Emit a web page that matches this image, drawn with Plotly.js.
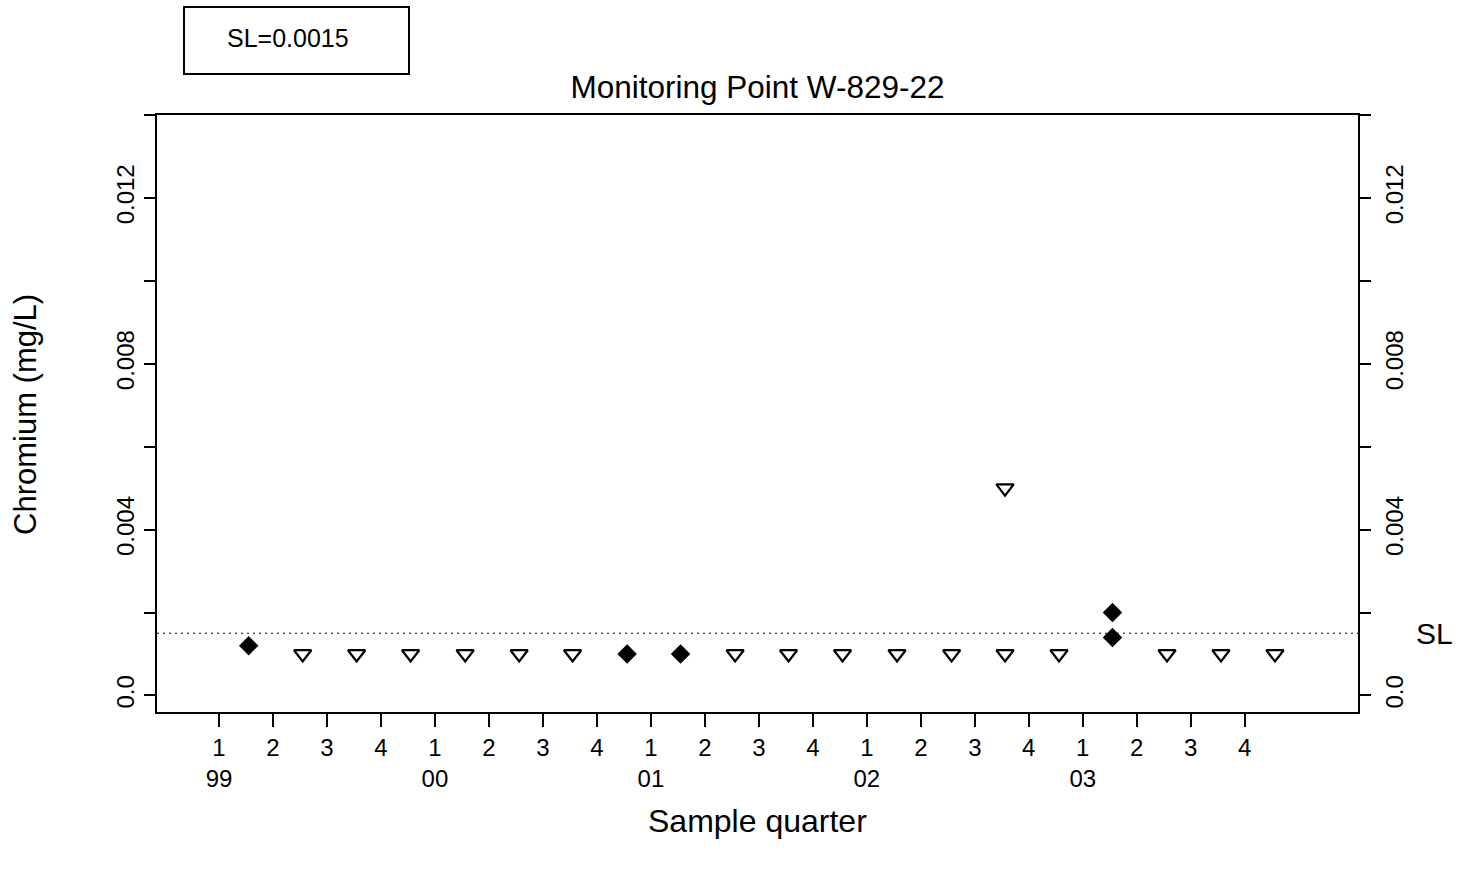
<!DOCTYPE html>
<html>
<head>
<meta charset="utf-8">
<script src="https://cdn.plot.ly/plotly-3.0.1.min.js"></script>
<style>html,body{margin:0;padding:0;background:#fff;}#chart{width:1468px;height:869px;}</style>
</head>
<body>
<div id="chart"></div>
<script>
// ---- data ----
const quarterLabels = ["1","2","3","4","1","2","3","4","1","2","3","4","1","2","3","4","1","2","3","4"];
const yearLabels = ["99","","","","00","","","","01","","","","02","","","","03","","",""];
const quarterIndex = [0,1,2,3,4,5,6,7,8,9,10,11,12,13,14,15,16,17,18,19];

// detected results (filled diamonds): sample time in quarter units, value mg/L
const detectX = [0.55, 7.56, 8.55, 16.55, 16.55];
const detectY = [0.0012, 0.001, 0.001, 0.002, 0.0014];

// non-detects (open down triangles)
const ndX = [1.55, 2.55, 3.55, 4.56, 5.56, 6.55, 9.56, 10.55, 11.55, 12.56, 13.57, 14.56, 14.56, 15.56, 17.56, 18.56, 19.56];
const ndY = [0.001, 0.001, 0.001, 0.001, 0.001, 0.001, 0.001, 0.001, 0.001, 0.001, 0.001, 0.001, 0.005, 0.001, 0.001, 0.001, 0.001];

const SL = 0.0015;
const yTickVals = [0, 0.002, 0.004, 0.006, 0.008, 0.010, 0.012, 0.014];
const yTickText = ["0.0", "", "0.004", "", "0.008", "", "0.012", ""];
const chartTitle = "Monitoring Point W-829-22";
const yTitle = "Chromium (mg/L)";
const xTitle = "Sample quarter";

// ---- layout geometry ----
const W = 1468, H = 869;
const mL = 157, mR = 110, mT = 115, mB = 157;
const pw = W - mL - mR, ph = H - mT - mB;
const px2x = p => (p - mL) / pw;
const py2y = p => (H - mB - p) / ph;

const FONT = "Liberation Sans, Arial, Helvetica, sans-serif";
const tickText = quarterIndex.map((q, i) => yearLabels[i] ? quarterLabels[i] + "<br>" + yearLabels[i] : quarterLabels[i]);

const traces = [
  {
    x: detectX, y: detectY, type: "scatter", mode: "markers",
    marker: {symbol: "diamond", size: 15, color: "#000"},
    xaxis: "x", yaxis: "y", hoverinfo: "skip", showlegend: false
  },
  {
    x: ndX, y: ndY, type: "scatter", mode: "markers",
    marker: {symbol: "triangle-down-open", size: 15, color: "#000", line: {color: "#000", width: 2.2}},
    xaxis: "x", yaxis: "y2", hoverinfo: "skip", showlegend: false
  }
];

const yCommon = {
  range: [-0.0004, 0.01400001],
  tickmode: "array", tickvals: yTickVals, ticktext: yTickText,
  tickangle: -90, ticks: "outside", ticklen: 11, tickwidth: 2, tickcolor: "#000",
  showline: true, linewidth: 2, linecolor: "#000",
  showgrid: false, zeroline: false,
  tickfont: {family: FONT, size: 24, color: "#000"}
};

const layout = {
  width: W, height: H,
  margin: {l: mL, r: mR, t: mT, b: mB, pad: 0},
  paper_bgcolor: "#fff", plot_bgcolor: "#fff",
  font: {family: FONT, color: "#000"},
  showlegend: false,
  title: {text: chartTitle, font: {family: FONT, size: 31.5, color: "#000"},
          xref: "paper", x: 0.5, xanchor: "center",
          yref: "container", y: 1 - 87 / H, yanchor: "middle"},
  xaxis: {
    range: [-1.148, 21.098],
    tickmode: "array", tickvals: quarterIndex, ticktext: tickText,
    ticks: "outside", ticklen: 13, tickwidth: 2, tickcolor: "#000",
    showline: true, mirror: true, linewidth: 2, linecolor: "#000",
    showgrid: false, zeroline: false,
    tickfont: {family: FONT, size: 24, color: "#000"}
  },
  yaxis: Object.assign({}, yCommon, {side: "left"}),
  yaxis2: Object.assign({}, yCommon, {side: "right", overlaying: "y", anchor: "x", ticklabelstandoff: 3}),
  shapes: [
    {type: "line", xref: "paper", x0: 0, x1: 1, yref: "y", y0: SL, y1: SL,
     line: {color: "#000", width: 1, dash: "2px,4px"}},
    {type: "rect", xref: "paper", x0: px2x(184), x1: px2x(409), yref: "paper", y0: py2y(7), y1: py2y(74),
     line: {color: "#000", width: 2}, fillcolor: "rgba(0,0,0,0)"}
  ],
  annotations: [
    {text: yTitle, textangle: -90, showarrow: false, font: {family: FONT, size: 31, color: "#000"},
     xref: "paper", x: px2x(25), xanchor: "center", yref: "paper", y: py2y(415), yanchor: "middle"},
    {text: xTitle, showarrow: false, font: {family: FONT, size: 32, color: "#000"},
     xref: "paper", x: 0.5, xanchor: "center", yref: "paper", y: py2y(821), yanchor: "middle"},
    {text: "SL", showarrow: false, font: {family: FONT, size: 30, color: "#000"},
     xref: "paper", x: px2x(1434), xanchor: "center", yref: "y", y: SL, yanchor: "middle"},
    {text: "SL=" + SL, showarrow: false, font: {family: FONT, size: 25, color: "#000"},
     xref: "paper", x: px2x(288), xanchor: "center", yref: "paper", y: py2y(38), yanchor: "middle"}
  ]
};

Plotly.newPlot("chart", traces, layout, {staticPlot: true, displayModeBar: false});
</script>
</body>
</html>
